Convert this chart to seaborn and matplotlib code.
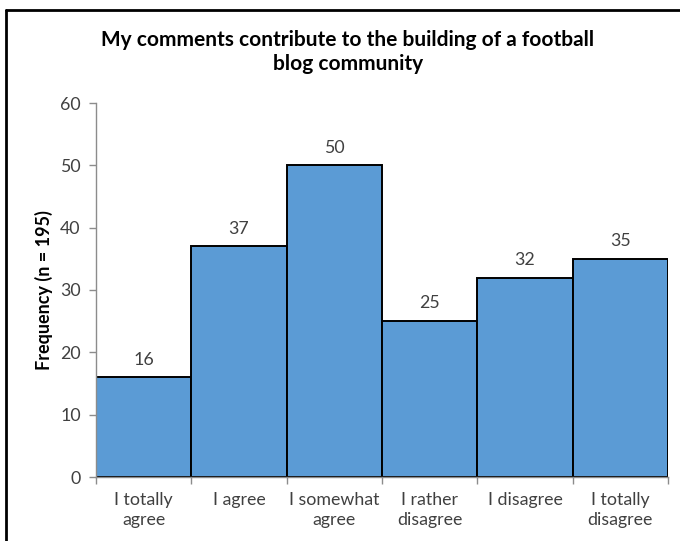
import matplotlib
matplotlib.use("Agg")
import matplotlib.pyplot as plt
from matplotlib.lines import Line2D
import seaborn as sns
import pandas as pd

categories = ["I totally\nagree", "I agree", "I somewhat\nagree",
              "I rather\ndisagree", "I disagree", "I totally\ndisagree"]
frequencies = [16, 37, 50, 25, 32, 35]
y_ticks = [0, 10, 20, 30, 40, 50, 60]

title_text = "My comments contribute to the building of a football\nblog community"
y_label = "Frequency (n = 195)"

df = pd.DataFrame({"answer": categories, "count": frequencies})

sns.set_theme(style="white")
plt.rcParams["font.family"] = ["Lato", "DejaVu Sans"]

W, H = 680, 541
fig = plt.figure(figsize=(W / 100, H / 100), dpi=100)
ax = fig.add_axes([96 / W, 1 - 477 / H, (668 - 96) / W, (477 - 103) / H])

sns.barplot(data=df, x="answer", y="count", order=categories, color="#5B9BD5",
            saturation=1, width=1.0, edgecolor="black", linewidth=1.4, ax=ax)

ax.set_xlim(-0.5, len(categories) - 0.5)
ax.set_ylim(0, 60)
ax.set_yticks(y_ticks)
ax.set_xlabel("")
ax.set_ylabel(y_label, fontsize=13, fontweight="bold", color="black", labelpad=5)

grey = "#8C8C8C"
for side in ("top", "right"):
    ax.spines[side].set_visible(False)
for side in ("left", "bottom"):
    ax.spines[side].set_color(grey)
    ax.spines[side].set_linewidth(1.0)

ax.tick_params(axis="y", which="major", direction="out", length=5, width=1,
               color=grey, labelsize=12.8, labelcolor="#404040", pad=6, left=True)
ax.tick_params(axis="x", which="major", length=0, labelsize=12.8,
               labelcolor="#404040", pad=11)
for lbl in ax.get_xticklabels():
    lbl.set_linespacing(1.3)
ax.set_xticks([i - 0.5 for i in range(len(categories) + 1)], minor=True)
ax.tick_params(axis="x", which="minor", direction="out", length=5, width=1,
               color=grey, bottom=True)

for i, v in enumerate(frequencies):
    ax.annotate(str(v), (i, v), xytext=(0, 7), textcoords="offset points",
                ha="center", va="bottom", fontsize=12.8, color="#404040")

fig.text(348 / W, 1 - 52 / H, title_text, ha="center", va="center",
         fontsize=15, fontweight="bold", color="black", linespacing=1.2)

# frame lines along the left and top of the chart area
fig.add_artist(Line2D([6 / W, 6 / W], [0, 1 - 10 / H], transform=fig.transFigure,
                      color="black", linewidth=2))
fig.add_artist(Line2D([6 / W, 1], [1 - 10 / H, 1 - 10 / H], transform=fig.transFigure,
                      color="black", linewidth=2))

fig.savefig("out.png", dpi=100)
